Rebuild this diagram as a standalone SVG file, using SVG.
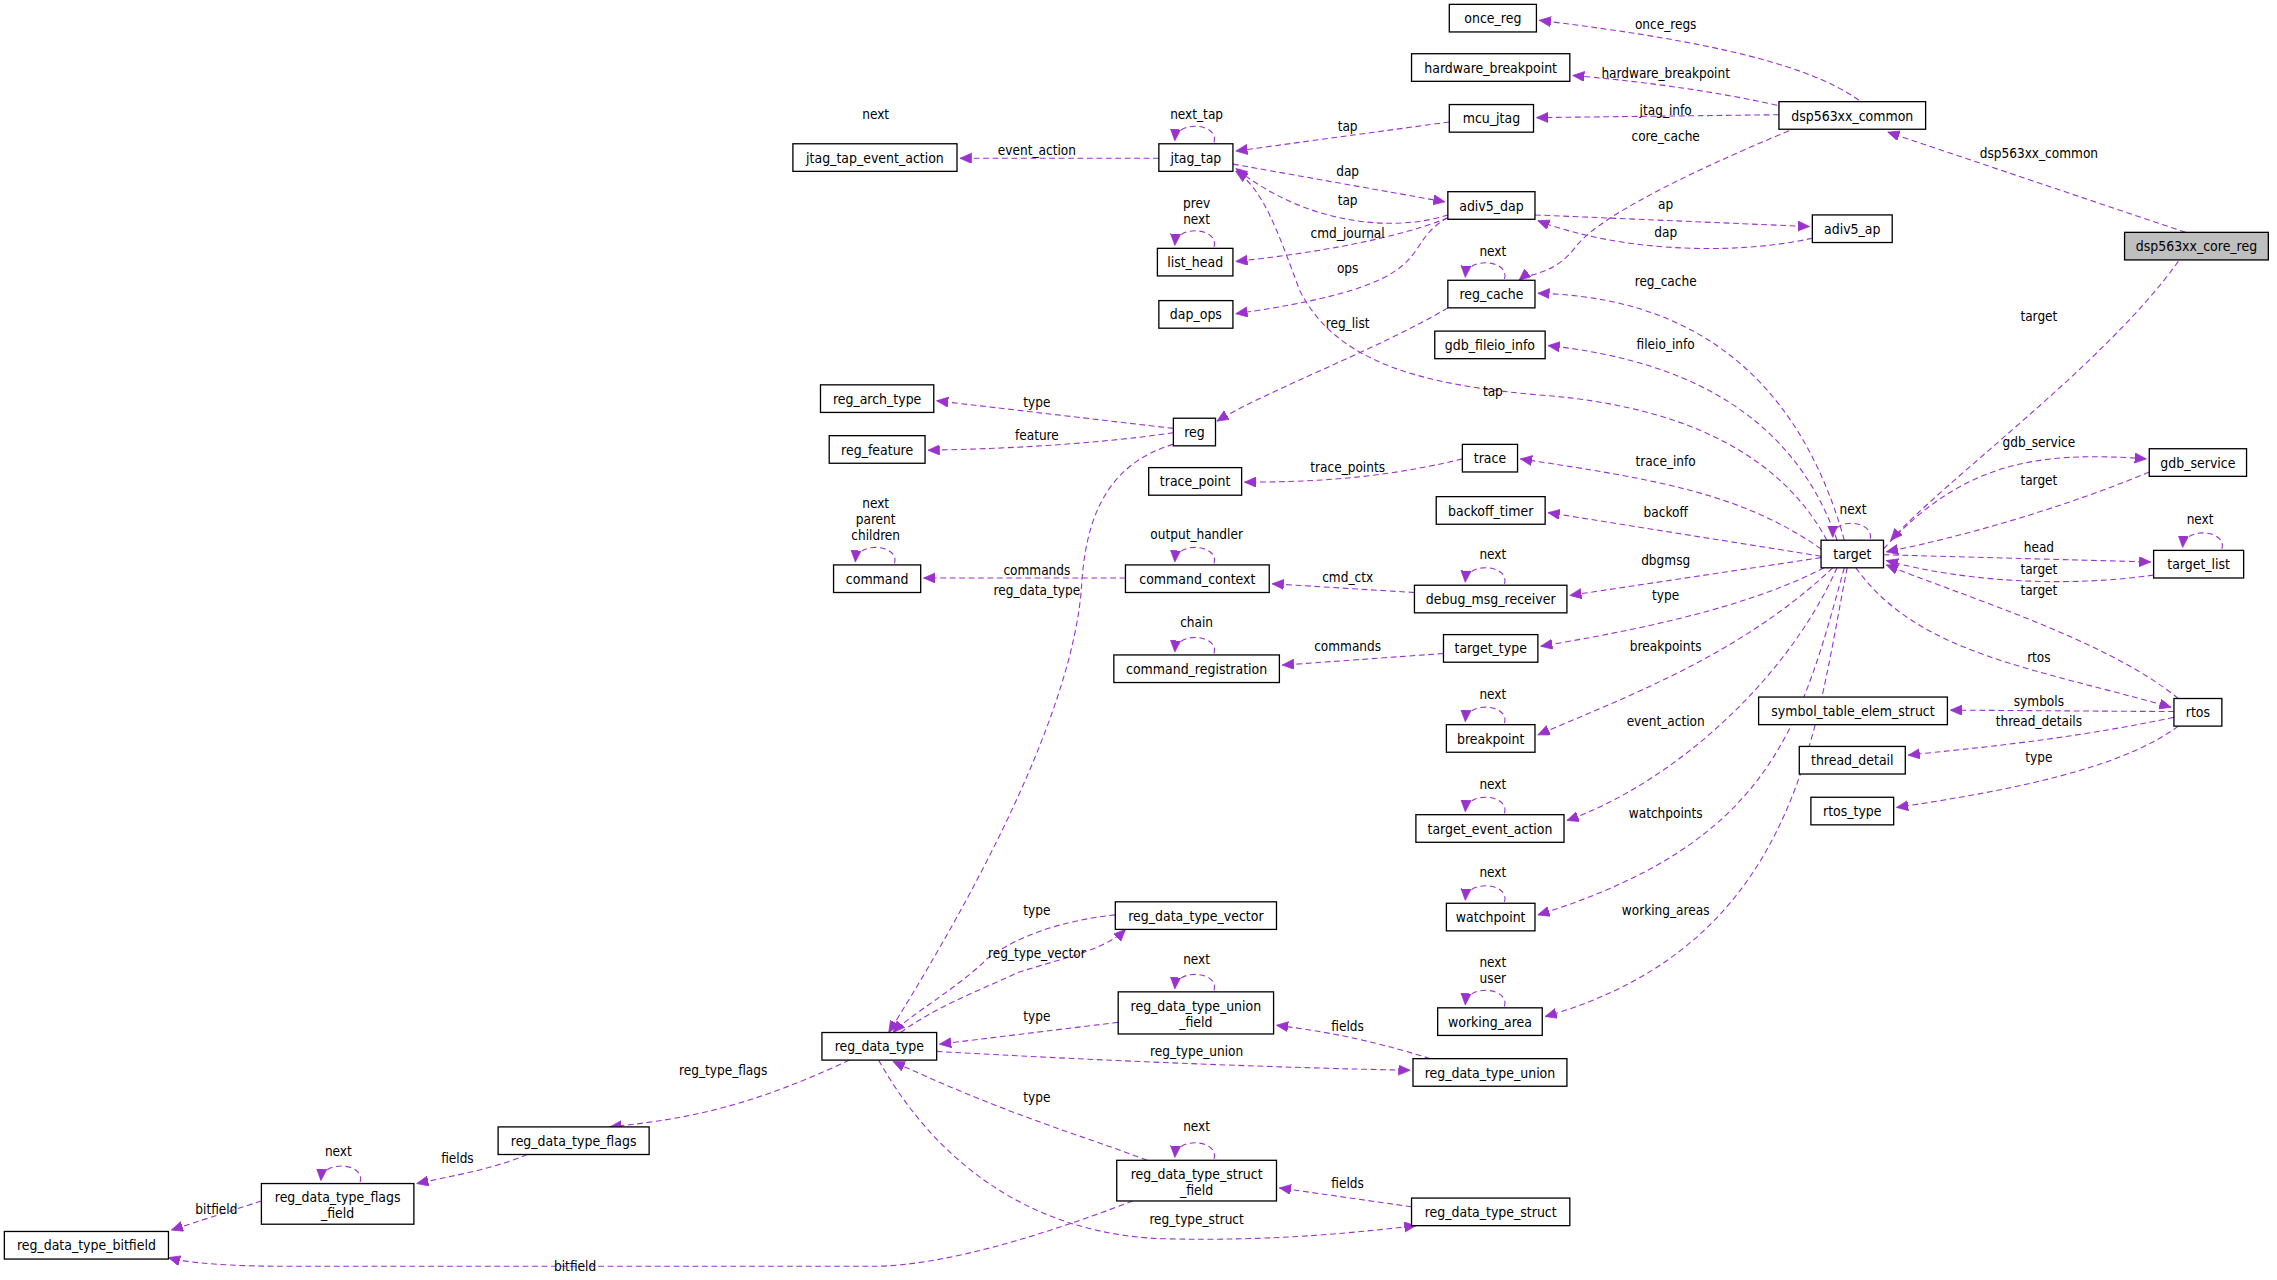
<svg xmlns="http://www.w3.org/2000/svg" width="2277" height="1280" viewBox="0 0 2277 1280">
<style>
.n rect{fill:#fff;stroke:#000;stroke-width:0.9}
.n text{font-family:"DejaVu Sans Condensed","Liberation Sans Narrow",sans-serif;font-size:9.6px;text-anchor:middle;fill:#000}
.e path{fill:none;stroke:#9a32cd;stroke-width:0.75;stroke-dasharray:4,2.5}
.l text{font-family:"DejaVu Sans Condensed","Liberation Sans Narrow",sans-serif;font-size:9.3px;text-anchor:middle;fill:#000}
</style>
<defs>
<marker id="a" markerUnits="userSpaceOnUse" markerWidth="10" markerHeight="8" refX="8" refY="3.5" orient="auto"><path d="M0,0 L8,3.5 L0,7 Z" fill="#9a32cd" stroke="#9a32cd" stroke-width="0.5"/></marker>
</defs>
<rect width="2277" height="1280" fill="#fff"/>
<g transform="scale(1.4522)">
<g class="e" id="connectors" marker-end="url(#a)">
<path d="M1280,69 C1240,40 1150,25 1060,14"/>
<path d="M1230,74 C1180,62 1120,55 1083,52"/>
<path d="M1225,79 L1058,81"/>
<path d="M1232,90 C1160,120 1100,150 1085,170 C1070,190 1052,188 1046,193"/>
<path d="M1505,160 L1300,91"/>
<path d="M1500,180 C1450,250 1340,330 1302,372"/>
<path d="M998,84 L851,104"/>
<path d="M836,98 C840,85 810,82 809,97"/>
<path d="M798,109 L661,109"/>
<path d="M849,113 L995,139"/>
<path d="M997,148 C960,160 900,155 851,116"/>
<path d="M997,150 C960,165 900,175 851,180"/>
<path d="M997,150 C960,170 1000,195 851,216"/>
<path d="M1057,148 L1246,156"/>
<path d="M1248,164 C1200,175 1120,175 1059,152"/>
<path d="M836,170 C840,157 810,154 809,169"/>
<path d="M1036,192 C1040,179 1010,176 1009,191"/>
<path d="M997,212 C950,240 870,270 838,290"/>
<path d="M1270,372 C1250,300 1200,205 1059,202"/>
<path d="M1265,372 C1240,300 1180,250 1066,238"/>
<path d="M1258,372 C1230,320 1170,280 1060,272 C980,265 920,250 895,200 C880,160 870,130 851,118"/>
<path d="M808,295 L645,276"/>
<path d="M808,298 C760,305 700,309 639,310"/>
<path d="M808,306 C760,320 748,360 745,400 C740,500 650,650 612,711"/>
<path d="M1007,316 C950,330 900,332 857,332"/>
<path d="M1254,378 C1200,340 1140,330 1047,316"/>
<path d="M1254,383 L1066,353"/>
<path d="M1288,371 C1290,358 1262,356 1262,370"/>
<path d="M1254,384 L1081,410"/>
<path d="M1256,391 C1200,420 1120,435 1061,445"/>
<path d="M1262,391 C1200,450 1120,480 1059,506"/>
<path d="M1265,391 C1230,470 1150,540 1079,565"/>
<path d="M1270,391 C1240,500 1220,580 1059,630"/>
<path d="M1272,391 C1250,500 1240,650 1064,700"/>
<path d="M1297,378 C1350,320 1400,310 1478,316"/>
<path d="M1480,325 C1420,350 1350,370 1299,380"/>
<path d="M1297,382 L1481,387"/>
<path d="M1483,396 C1420,405 1350,400 1299,386"/>
<path d="M1500,481 C1450,440 1350,410 1299,389"/>
<path d="M1278,391 C1320,450 1400,460 1495,487"/>
<path d="M1530,378 C1534,365 1504,362 1503,377"/>
<path d="M1497,490 L1343,489"/>
<path d="M1497,494 C1420,510 1360,515 1314,520"/>
<path d="M1500,500 C1460,530 1380,545 1306,556"/>
<path d="M775,398 L636,398"/>
<path d="M836,388 C840,375 810,372 809,387"/>
<path d="M616,388 C620,375 590,372 589,387"/>
<path d="M974,408 L876,402"/>
<path d="M1036,402 C1040,389 1010,386 1009,401"/>
<path d="M994,450 L883,458"/>
<path d="M836,450 C840,437 810,434 809,449"/>
<path d="M1036,498 C1040,485 1010,482 1009,497"/>
<path d="M1036,560 C1040,547 1010,544 1009,559"/>
<path d="M1036,621 C1040,608 1010,605 1009,620"/>
<path d="M1036,693 C1040,680 1010,677 1009,692"/>
<path d="M768,630 C730,634 700,645 680,660 C660,680 625,700 615,711"/>
<path d="M620,711 C650,690 680,680 700,670 C730,660 760,655 775,640"/>
<path d="M770,704 C720,710 680,715 647,719"/>
<path d="M836,682 C840,669 810,666 809,681"/>
<path d="M645,724 C750,730 870,735 971,737"/>
<path d="M985,729 C940,715 910,710 879,706"/>
<path d="M585,730 C520,760 480,770 420,776"/>
<path d="M363,795 C340,805 310,810 287,815"/>
<path d="M248,814 C252,801 222,798 221,813"/>
<path d="M180,827 L118,847"/>
<path d="M790,799 C740,780 700,770 615,731"/>
<path d="M836,798 C840,785 810,782 809,797"/>
<path d="M605,730 C650,810 720,850 800,853 C880,855 940,848 975,844"/>
<path d="M972,831 L881,818"/>
<path d="M780,827 C720,850 650,872 600,872 L200,872 C160,872 130,870 116,866"/>
</g>
<g class="l" id="labels">
<text x="1147" y="20">once_regs</text>
<text x="1147" y="54">hardware_breakpoint</text>
<text x="1147" y="79">jtag_info</text>
<text x="1147" y="97">core_cache</text>
<text x="1404" y="109">dsp563xx_common</text>
<text x="1404" y="221">target</text>
<text x="928" y="90">tap</text>
<text x="824" y="82">next_tap</text>
<text x="714" y="107">event_action</text>
<text x="603" y="82">next</text>
<text x="928" y="121">dap</text>
<text x="928" y="141">tap</text>
<text x="928" y="164">cmd_journal</text>
<text x="928" y="188">ops</text>
<text x="1147" y="144">ap</text>
<text x="1147" y="163">dap</text>
<text x="824" y="143">prev</text>
<text x="824" y="154">next</text>
<text x="1028" y="176">next</text>
<text x="928" y="226">reg_list</text>
<text x="1147" y="197">reg_cache</text>
<text x="1147" y="240">fileio_info</text>
<text x="1028" y="273">tap</text>
<text x="714" y="280">type</text>
<text x="714" y="303">feature</text>
<text x="714" y="410">reg_data_type</text>
<text x="928" y="325">trace_points</text>
<text x="1147" y="321">trace_info</text>
<text x="1147" y="356">backoff</text>
<text x="1276" y="354">next</text>
<text x="1147" y="389">dbgmsg</text>
<text x="1147" y="413">type</text>
<text x="1147" y="448">breakpoints</text>
<text x="1147" y="500">event_action</text>
<text x="1147" y="563">watchpoints</text>
<text x="1147" y="630">working_areas</text>
<text x="1404" y="308">gdb_service</text>
<text x="1404" y="334">target</text>
<text x="1404" y="380">head</text>
<text x="1404" y="395">target</text>
<text x="1404" y="410">target</text>
<text x="1404" y="456">rtos</text>
<text x="1515" y="361">next</text>
<text x="1404" y="486">symbols</text>
<text x="1404" y="500">thread_details</text>
<text x="1404" y="525">type</text>
<text x="714" y="396">commands</text>
<text x="824" y="371">output_handler</text>
<text x="603" y="350">next</text>
<text x="603" y="361">parent</text>
<text x="603" y="372">children</text>
<text x="928" y="401">cmd_ctx</text>
<text x="1028" y="385">next</text>
<text x="928" y="448">commands</text>
<text x="824" y="432">chain</text>
<text x="1028" y="481">next</text>
<text x="1028" y="543">next</text>
<text x="1028" y="604">next</text>
<text x="1028" y="666">next</text>
<text x="1028" y="677">user</text>
<text x="714" y="630">type</text>
<text x="714" y="660">reg_type_vector</text>
<text x="714" y="703">type</text>
<text x="824" y="664">next</text>
<text x="824" y="727">reg_type_union</text>
<text x="928" y="710">fields</text>
<text x="498" y="740">reg_type_flags</text>
<text x="315" y="801">fields</text>
<text x="233" y="796">next</text>
<text x="149" y="836">bitfield</text>
<text x="714" y="759">type</text>
<text x="824" y="779">next</text>
<text x="824" y="843">reg_type_struct</text>
<text x="928" y="818">fields</text>
<text x="396" y="875">bitfield</text>
</g>
<g class="n" id="once_reg"><rect x="998" y="3" width="60" height="19"/><text x="1028" y="16">once_reg</text></g>
<g class="n" id="hardware_breakpoint"><rect x="972" y="37" width="109" height="19"/><text x="1026.5" y="50">hardware_breakpoint</text></g>
<g class="n" id="mcu_jtag"><rect x="998" y="72" width="58" height="19"/><text x="1027" y="85">mcu_jtag</text></g>
<g class="n" id="dsp563xx_common"><rect x="1225" y="70" width="101" height="19"/><text x="1275.5" y="83">dsp563xx_common</text></g>
<g class="n" id="jtag_tap"><rect x="798" y="99" width="51" height="19"/><text x="823.5" y="112">jtag_tap</text></g>
<g class="n" id="jtag_tap_event_action"><rect x="546" y="99" width="113" height="19"/><text x="602.5" y="112">jtag_tap_event_action</text></g>
<g class="n" id="adiv5_dap"><rect x="997" y="132" width="60" height="19"/><text x="1027" y="145">adiv5_dap</text></g>
<g class="n" id="adiv5_ap"><rect x="1248" y="148" width="55" height="19"/><text x="1275.5" y="161">adiv5_ap</text></g>
<g class="n" id="dsp563xx_core_reg"><rect x="1463" y="160" width="99" height="19" style="fill:#bfbfbf"/><text x="1512.5" y="173">dsp563xx_core_reg</text></g>
<g class="n" id="list_head"><rect x="797" y="171" width="52" height="19"/><text x="823" y="184">list_head</text></g>
<g class="n" id="dap_ops"><rect x="798" y="207" width="51" height="19"/><text x="823.5" y="220">dap_ops</text></g>
<g class="n" id="reg_cache"><rect x="997" y="193" width="60" height="19"/><text x="1027" y="206">reg_cache</text></g>
<g class="n" id="gdb_fileio_info"><rect x="988" y="228" width="76" height="19"/><text x="1026" y="241">gdb_fileio_info</text></g>
<g class="n" id="reg_arch_type"><rect x="565" y="265" width="78" height="19"/><text x="604" y="278">reg_arch_type</text></g>
<g class="n" id="reg"><rect x="808" y="288" width="29" height="19"/><text x="822.5" y="301">reg</text></g>
<g class="n" id="reg_feature"><rect x="571" y="300" width="66" height="19"/><text x="604" y="313">reg_feature</text></g>
<g class="n" id="trace"><rect x="1007" y="306" width="38" height="19"/><text x="1026" y="319">trace</text></g>
<g class="n" id="trace_point"><rect x="791" y="322" width="64" height="19"/><text x="823" y="335">trace_point</text></g>
<g class="n" id="backoff_timer"><rect x="989" y="342" width="75" height="19"/><text x="1026.5" y="355">backoff_timer</text></g>
<g class="n" id="gdb_service"><rect x="1480" y="309" width="67" height="19"/><text x="1513.5" y="322">gdb_service</text></g>
<g class="n" id="target"><rect x="1254" y="372" width="43" height="19"/><text x="1275.5" y="385">target</text></g>
<g class="n" id="target_list"><rect x="1483" y="379" width="62" height="19"/><text x="1514" y="392">target_list</text></g>
<g class="n" id="command"><rect x="574" y="389" width="60" height="19"/><text x="604" y="402">command</text></g>
<g class="n" id="command_context"><rect x="775" y="389" width="99" height="19"/><text x="824.5" y="402">command_context</text></g>
<g class="n" id="debug_msg_receiver"><rect x="974" y="403" width="105" height="19"/><text x="1026.5" y="416">debug_msg_receiver</text></g>
<g class="n" id="target_type"><rect x="994" y="437" width="65" height="19"/><text x="1026.5" y="450">target_type</text></g>
<g class="n" id="command_registration"><rect x="767" y="451" width="114" height="19"/><text x="824" y="464">command_registration</text></g>
<g class="n" id="breakpoint"><rect x="996" y="499" width="61" height="19"/><text x="1026.5" y="512">breakpoint</text></g>
<g class="n" id="symbol_table_elem_struct"><rect x="1211" y="480" width="130" height="19"/><text x="1276" y="493">symbol_table_elem_struct</text></g>
<g class="n" id="rtos"><rect x="1497" y="481" width="33" height="19"/><text x="1513.5" y="494">rtos</text></g>
<g class="n" id="thread_detail"><rect x="1239" y="514" width="73" height="19"/><text x="1275.5" y="527">thread_detail</text></g>
<g class="n" id="rtos_type"><rect x="1247" y="549" width="57" height="19"/><text x="1275.5" y="562">rtos_type</text></g>
<g class="n" id="target_event_action"><rect x="975" y="561" width="102" height="19"/><text x="1026" y="574">target_event_action</text></g>
<g class="n" id="watchpoint"><rect x="996" y="622" width="61" height="19"/><text x="1026.5" y="635">watchpoint</text></g>
<g class="n" id="reg_data_type_vector"><rect x="768" y="621" width="111" height="19"/><text x="823.5" y="634">reg_data_type_vector</text></g>
<g class="n" id="reg_data_type_union_field"><rect x="770" y="683" width="107" height="29"/><text x="823.5" y="696">reg_data_type_union</text><text x="823.5" y="707">_field</text></g>
<g class="n" id="working_area"><rect x="990" y="694" width="72" height="19"/><text x="1026" y="707">working_area</text></g>
<g class="n" id="reg_data_type"><rect x="566" y="711" width="79" height="19"/><text x="605.5" y="724">reg_data_type</text></g>
<g class="n" id="reg_data_type_union"><rect x="973" y="729" width="106" height="19"/><text x="1026" y="742">reg_data_type_union</text></g>
<g class="n" id="reg_data_type_flags"><rect x="343" y="776" width="104" height="19"/><text x="395" y="789">reg_data_type_flags</text></g>
<g class="n" id="reg_data_type_struct_field"><rect x="769" y="799" width="110" height="28"/><text x="824" y="812">reg_data_type_struct</text><text x="824" y="823">_field</text></g>
<g class="n" id="reg_data_type_flags_field"><rect x="180" y="815" width="105" height="28"/><text x="232.5" y="828">reg_data_type_flags</text><text x="232.5" y="839">_field</text></g>
<g class="n" id="reg_data_type_struct"><rect x="972" y="825" width="109" height="19"/><text x="1026.5" y="838">reg_data_type_struct</text></g>
<g class="n" id="reg_data_type_bitfield"><rect x="3" y="848" width="113" height="19"/><text x="59.5" y="861">reg_data_type_bitfield</text></g>
</g>
</svg>
